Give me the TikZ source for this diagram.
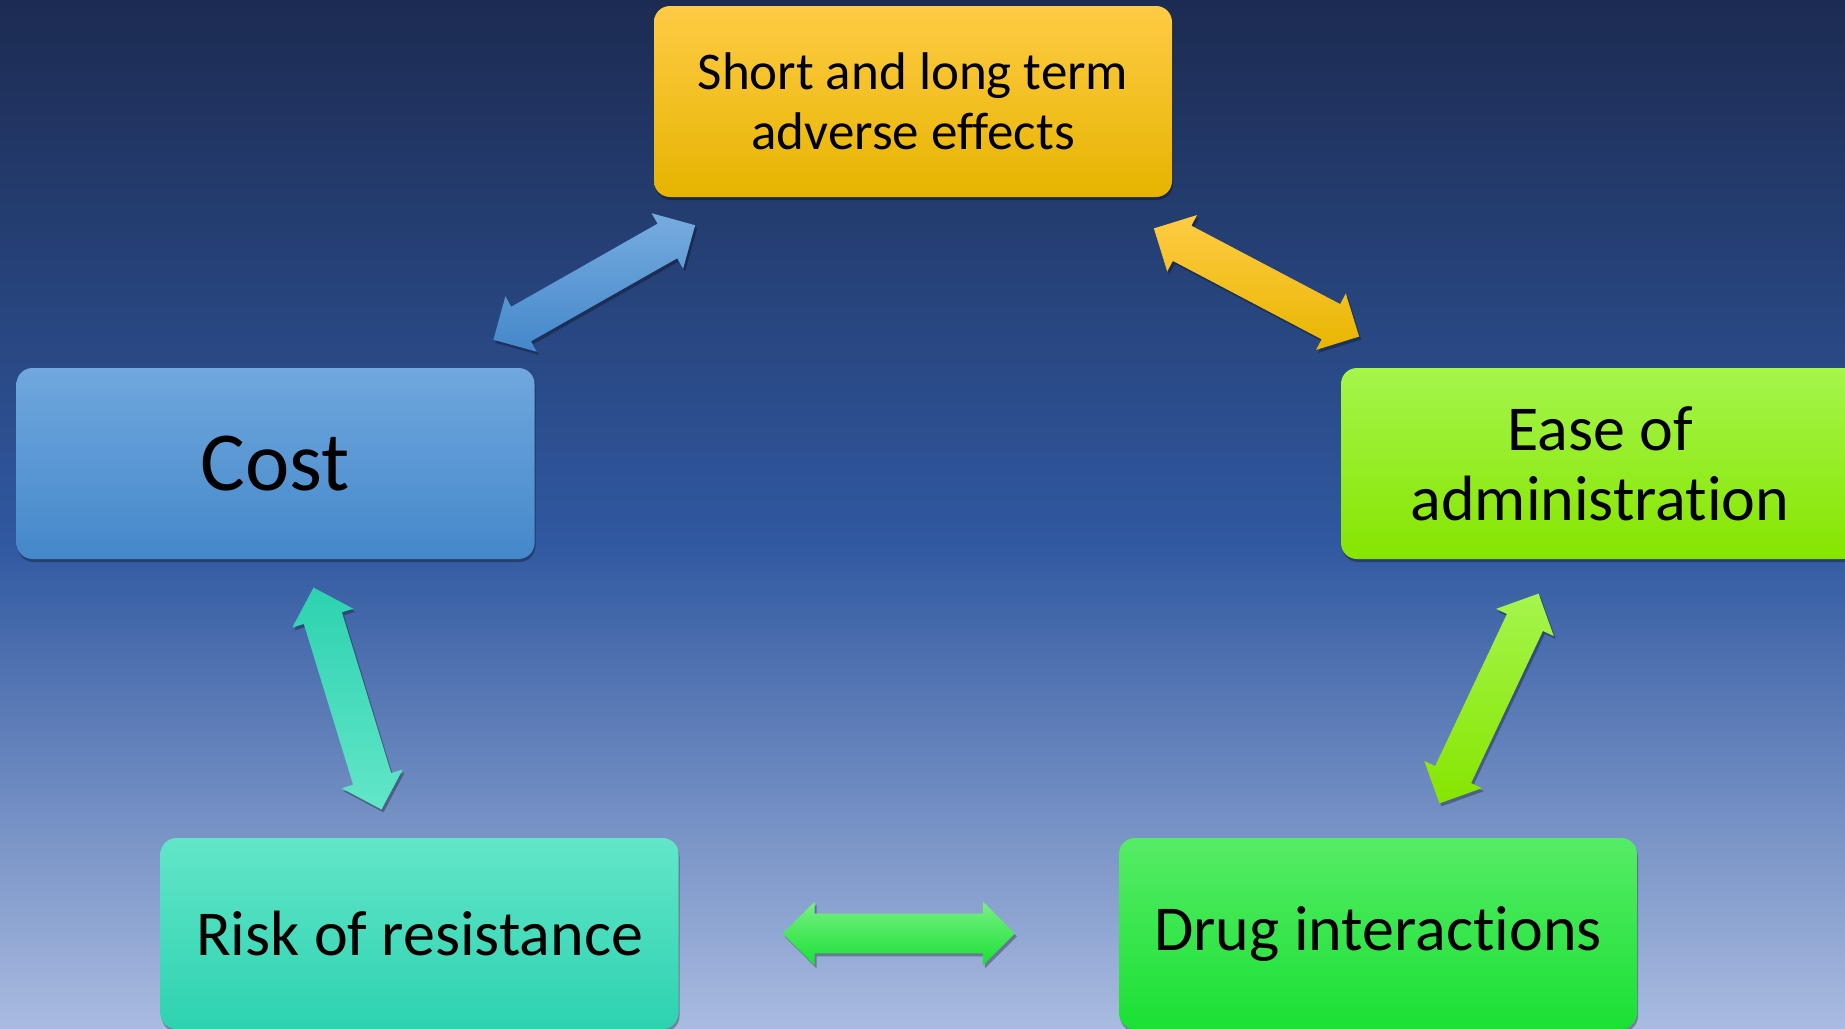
\documentclass[tikz,border=0pt]{standalone}
\usepackage{fontspec}
\setmainfont[Ligatures={NoCommon,NoContextual}]{Carlito}
\usepackage{tikz}
\usetikzlibrary{shapes.arrows,shadows}

\definecolor{bgtop}{HTML}{1C2B51}
\definecolor{bgmid}{HTML}{3058A0}
\definecolor{bgbot}{HTML}{A9BBE0}
\definecolor{effA}{HTML}{FFCB45}
\definecolor{effB}{HTML}{FFC800}
\definecolor{effC}{HTML}{E6B400}
\definecolor{costA}{HTML}{70A7DE}
\definecolor{costB}{HTML}{4488CA}
\definecolor{easeA}{HTML}{A5F54C}
\definecolor{easeB}{HTML}{86E500}
\definecolor{riskA}{HTML}{62E6C8}
\definecolor{riskB}{HTML}{2DD2B1}
\definecolor{drugA}{HTML}{56EC66}
\definecolor{drugB}{HTML}{1AE034}

\pgfdeclareverticalshading{slidebg}{100bp}{color(0bp)=(bgbot); color(25bp)=(bgbot); color(48.7bp)=(bgmid); color(75bp)=(bgtop); color(100bp)=(bgtop)}

\begin{document}
\begin{tikzpicture}[x=0.5pt,y=-0.5pt,
  box/.style={rounded corners=8pt, minimum width=259pt, minimum height=95.5pt, inner sep=0pt, align=center, text=black,
    drop shadow={shadow xshift=.5pt, shadow yshift=-1.5pt, opacity=.3, fill=black}},
  dbl/.style={double arrow, double arrow head extend=6pt, inner xsep=0pt, inner ysep=9.75pt, minimum height=116pt,
    drop shadow={shadow xshift=1pt, shadow yshift=-1.5pt, opacity=.3, fill=black}}]
\useasboundingbox (0,0) rectangle (1845,1028);
\shade[shading=slidebg] (0,0) rectangle (1845,1028);

\node[box, top color=effA, middle color=effB, bottom color=effC, font=\fontsize{26.5}{30}\selectfont] (effects) at (913,101.5) {Short and long term\\adverse effects};
\node[box, top color=costA, bottom color=costB, font=\fontsize{42}{48}\selectfont] (cost) at (275.5,463.5) {Cost};
\node[box, top color=easeA, bottom color=easeB, font=\fontsize{32}{35}\selectfont] (ease) at (1600,463.5) {Ease of\\administrat\kern0pt ion};
\node[box, top color=riskA, bottom color=riskB, font=\fontsize{32}{35}\selectfont] (risk) at (419.5,933.5) {Risk of resistance};
\node[box, top color=drugA, bottom color=drugB, font=\fontsize{32}{35}\selectfont] (drug) at (1378,933.5) {Drug interact\kern0pt ions};

\path (cost.center) -- node[dbl, sloped, top color=costA!95!white, bottom color=costB] {} (effects.center);
\path (effects.center) -- node[dbl, sloped, top color=effA, bottom color=effC!90!effB] {} (ease.center);
\path (cost.center) -- node[dbl, sloped, top color=riskB, bottom color=riskA] {} (risk.center);
\path (ease.center) -- node[dbl, sloped, top color=easeA, bottom color=easeB] {} (drug.center);
\path (risk.center) -- node[dbl, top color=drugA!80!white, bottom color=drugB] {} (drug.center);
\end{tikzpicture}
\end{document}
